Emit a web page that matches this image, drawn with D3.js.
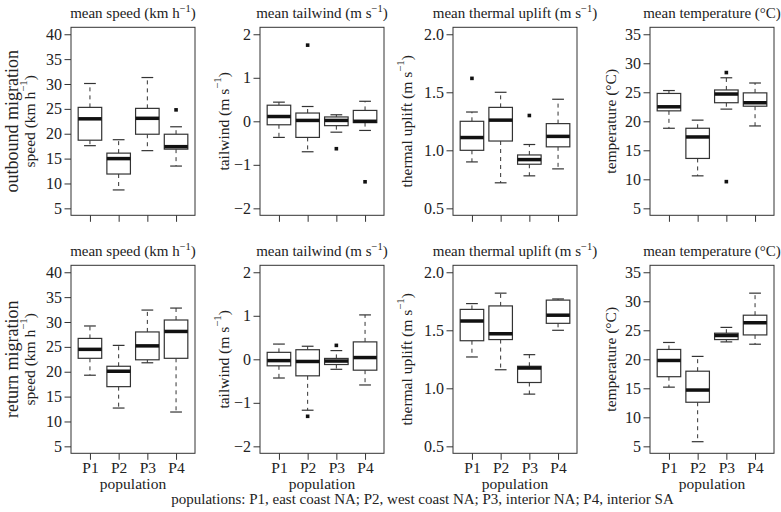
<!DOCTYPE html>
<html><head><meta charset="utf-8">
<script src="https://cdn.jsdelivr.net/npm/d3@7"></script>
<style>
body{margin:0;background:#fff}
svg{display:block}
text{font-family:"Liberation Serif","DejaVu Serif",serif;fill:#222}
</style>
</head><body>
<svg id="chart" width="781" height="512"></svg>
<script>
// ---------- DATA ----------
const populations = ["P1", "P2", "P3", "P4"];
const rowNames = ["outbound migration", "return migration"];
const footerText = "populations: P1, east coast NA; P2, west coast NA; P3, interior NA; P4, interior SA";

// five-number summaries per population: [lower whisker, Q1, median, Q3, upper whisker]
const outSpeed = [[17.6, 18.7, 23.0, 25.3, 30.1], [8.7, 11.9, 15.0, 16.1, 18.8], [16.6, 19.9, 23.1, 25.1, 31.3], [13.5, 16.9, 17.4, 19.9, 21.4]];
const outSpeedOutliers = [[], [], [], [24.8]];
const outTailwind = [[-0.37, -0.08, 0.11, 0.37, 0.44], [-0.70, -0.37, 0.02, 0.19, 0.34], [-0.25, -0.10, 0.02, 0.10, 0.15], [-0.21, -0.03, 0.0, 0.25, 0.46]];
const outTailwindOutliers = [[], [1.75], [-0.63], [-1.39]];
const outThermal = [[0.90, 1.00, 1.11, 1.25, 1.33], [0.72, 1.08, 1.26, 1.37, 1.50], [0.78, 0.88, 0.92, 0.96, 1.05], [0.84, 1.03, 1.12, 1.23, 1.44]];
const outThermalOutliers = [[1.62], [], [1.30], []];
const outTemperature = [[18.8, 21.8, 22.5, 24.8, 25.3], [10.6, 13.6, 17.3, 18.8, 20.2], [22.1, 23.2, 24.7, 25.4, 27.5], [19.2, 22.6, 23.2, 24.9, 26.6]];
const outTemperatureOutliers = [[], [], [28.4, 9.6], []];

const retSpeed = [[19.3, 22.7, 24.5, 26.7, 29.2], [12.7, 17.0, 20.1, 21.1, 25.3], [21.8, 22.4, 25.2, 28.0, 32.4], [11.9, 22.7, 28.1, 30.4, 32.8]];
const retSpeedOutliers = [[], [], [], []];
const retTailwind = [[-0.43, -0.15, -0.03, 0.16, 0.35], [-1.17, -0.38, -0.05, 0.22, 0.30], [-0.23, -0.12, -0.04, 0.02, 0.20], [-0.59, -0.25, 0.04, 0.40, 1.02]];
const retTailwindOutliers = [[], [-1.31], [0.32], []];
const retThermal = [[1.27, 1.41, 1.58, 1.68, 1.73], [1.16, 1.42, 1.47, 1.71, 1.82], [0.95, 1.05, 1.175, 1.19, 1.29], [1.50, 1.56, 1.63, 1.76, 1.77]];
const retThermalOutliers = [[], [], [], []];
const retTemperature = [[15.2, 17.0, 19.8, 21.7, 22.9], [5.8, 12.6, 14.7, 17.95, 20.5], [23.0, 23.4, 24.1, 24.5, 25.5], [22.6, 24.2, 26.3, 27.6, 31.4]];
const retTemperatureOutliers = [[], [], [], []];

// axis ranges and tick labels
const speedTicks = [5, 10, 15, 20, 25, 30, 35, 40];
const tailwindTicks = [-2, -1, 0, 1, 2];
const thermalTicks = [0.5, 1.0, 1.5, 2.0];
const temperatureTicks = [5, 10, 15, 20, 25, 30, 35];

// titles: [before superscript, superscript, after]
const panelTitles = [["mean speed (km h", "\u22121", ")"], ["mean tailwind (m s", "\u22121", ")"], ["mean thermal uplift (m s", "\u22121", ")"], ["mean temperature (\u00B0C)", "", ""]];
const axisLabels = [["speed (km h", "\u22121", ")"], ["tailwind (m s", "\u22121", ")"], ["thermal uplift (m s", "\u22121", ")"], ["temperature (\u00B0C)", "", ""]];

// ---------- LAYOUT ----------
const svg = d3.select("#chart");
const colLeft = [71, 260, 453, 650];
const rowTop = [27.3, 265.3];
const pw = 124, ph = 188;
const ylabX = [29, 222.5, 406, 609.5];
const rowLabX = 11.5;
const lineCol = "#333";

const boxData = [[outSpeed, outTailwind, outThermal, outTemperature], [retSpeed, retTailwind, retThermal, retTemperature]];
const outData = [[outSpeedOutliers, outTailwindOutliers, outThermalOutliers, outTemperatureOutliers], [retSpeedOutliers, retTailwindOutliers, retThermalOutliers, retTemperatureOutliers]];
const tickSets = [speedTicks, tailwindTicks, thermalTicks, temperatureTicks];
const tickFmts = [d3.format("d"), d3.format("d"), d3.format(".1f"), d3.format("d")];

function supText(sel, parts, size) {
  sel.append("tspan").text(parts[0]);
  if (parts[1]) {
    const s = size * 0.7, sh = size * 0.38;
    sel.append("tspan").attr("font-size", s).attr("dy", -sh).text(parts[1]);
    sel.append("tspan").attr("dy", sh).text(parts[2]);
  }
}

for (let r = 0; r < 2; r++) {
  const top = rowTop[r];
  for (let c = 0; c < 4; c++) {
    const left = colLeft[c];
    const ticks = tickSets[c];
    const lo = d3.min(ticks), hi = d3.max(ticks), pad = 0.04 * (hi - lo);
    const y = d3.scaleLinear().domain([lo - pad, hi + pad]).range([top + ph, top]);
    const x = d3.scalePoint().domain(populations).range([left, left + pw]).padding(0.66);
    const bw = x.step() * 0.82;
    const g = svg.append("g");

    // axes
    const ya = g.append("g").attr("transform", `translate(${left},0)`)
      .call(d3.axisLeft(y).tickValues(ticks).tickSize(6.5).tickPadding(2.5).tickFormat(tickFmts[c]));
    ya.attr("font-size", null).attr("font-family", null);
    ya.select(".domain").remove();
    ya.selectAll("line").attr("stroke", lineCol);
    ya.selectAll("text").attr("font-size", 16).attr("fill", "#222");

    const xa = g.append("g").attr("transform", `translate(0,${top + ph})`)
      .call(d3.axisBottom(x).tickSize(6.5).tickFormat(r === 1 ? (d => d) : () => ""));
    xa.attr("font-size", null).attr("font-family", null);
    xa.select(".domain").remove();
    xa.selectAll("line").attr("stroke", lineCol);
    xa.selectAll("text").attr("font-size", 15.5).attr("fill", "#222").attr("y", 19.9).attr("dy", 0);

    // frame
    g.append("rect").attr("x", left).attr("y", top).attr("width", pw).attr("height", ph)
      .attr("fill", "none").attr("stroke", lineCol).attr("stroke-width", 1);

    // boxes
    const stats = boxData[r][c];
    populations.forEach((p, i) => {
      const [wl, q1, med, q3, wh] = stats[i];
      const cx = x(p);
      const bg = g.append("g");
      bg.append("line").attr("x1", cx).attr("x2", cx).attr("y1", y(q3)).attr("y2", y(wh))
        .attr("stroke", lineCol).attr("stroke-dasharray", "4,4");
      bg.append("line").attr("x1", cx).attr("x2", cx).attr("y1", y(q1)).attr("y2", y(wl))
        .attr("stroke", lineCol).attr("stroke-dasharray", "4,4");
      [wl, wh].forEach(v => bg.append("line").attr("x1", cx - bw / 4).attr("x2", cx + bw / 4)
        .attr("y1", y(v)).attr("y2", y(v)).attr("stroke", lineCol).attr("stroke-width", 1.2));
      bg.append("rect").attr("x", cx - bw / 2).attr("y", y(q3)).attr("width", bw).attr("height", y(q1) - y(q3))
        .attr("fill", "#fff").attr("stroke", lineCol).attr("stroke-width", 1.2);
      bg.append("line").attr("x1", cx - bw / 2).attr("x2", cx + bw / 2).attr("y1", y(med)).attr("y2", y(med))
        .attr("stroke", "#111").attr("stroke-width", 3.5);
      outData[r][c][i].forEach(v => bg.append("rect").attr("x", cx - 1.8).attr("y", y(v) - 1.8)
        .attr("width", 3.6).attr("height", 3.6).attr("fill", "#111"));
    });

    // title
    const t = svg.append("text").attr("x", left + pw / 2).attr("y", r === 0 ? 18 : 256)
      .attr("text-anchor", "middle").attr("font-size", 15);
    supText(t, panelTitles[c], 15);

    // y label
    const yc = top + ph / 2;
    const yl = svg.append("text").attr("transform", `translate(${ylabX[c]},${yc}) rotate(-90)`)
      .attr("text-anchor", "middle").attr("dominant-baseline", "central").attr("font-size", 15.5);
    supText(yl, axisLabels[c], 15.5);

    if (r === 1) {
      svg.append("text").attr("x", left + pw / 2).attr("y", 488.5).attr("text-anchor", "middle")
        .attr("font-size", 15.5).text("population");
    }
  }
  svg.append("text").attr("transform", `translate(${rowLabX},${top + ph / 2}) rotate(-90)`)
    .attr("text-anchor", "middle").attr("dominant-baseline", "central").attr("font-size", 18).text(rowNames[r]);
}

svg.append("text").attr("x", (colLeft[0] + colLeft[3] + pw) / 2).attr("y", 504).attr("text-anchor", "middle")
  .attr("font-size", 15).text(footerText);
</script>
</body></html>
